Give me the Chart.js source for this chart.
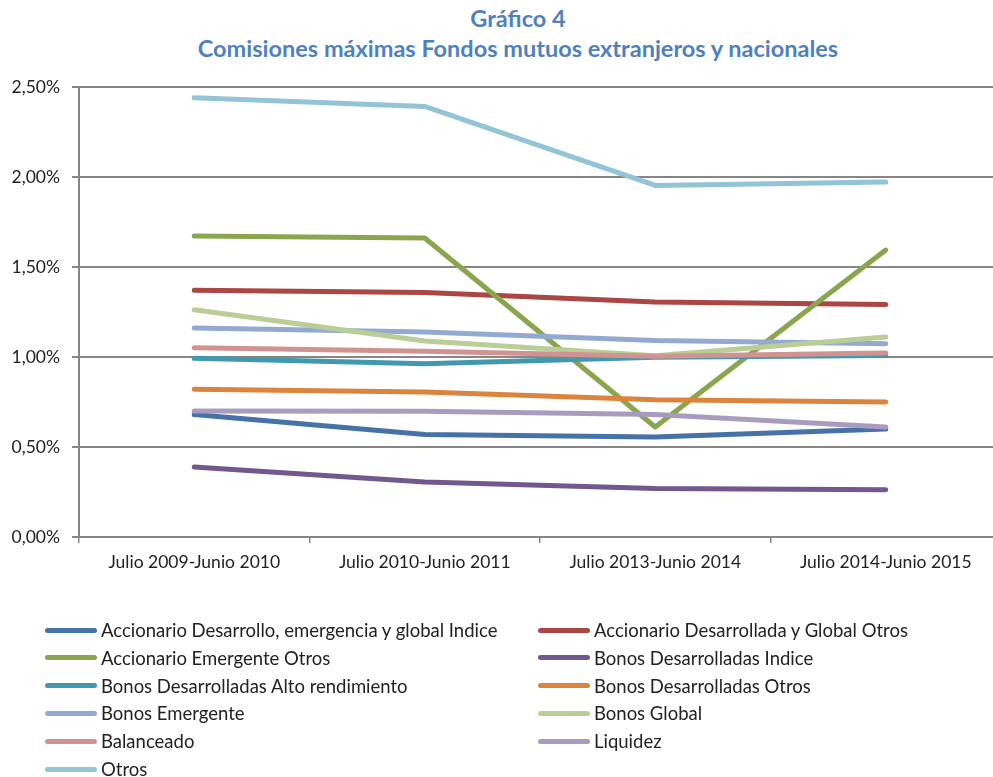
<!DOCTYPE html>
<html lang="es">
<head>
<meta charset="utf-8">
<title>Gráfico 4</title>
<script src="https://cdn.jsdelivr.net/npm/chart.js@4.4.1/dist/chart.umd.min.js"></script>
<style>
    html, body { margin: 0; padding: 0; background: #fff; overflow: hidden; }
    body { width: 993px; height: 777px; position: relative; font-family: Lato, "Open Sans", sans-serif; }
    #titulo { position: absolute; left: 0; top: 3px; width: 1036px; text-align: center; color: #4F81BD; font-weight: bold; font-size: 23.5px; line-height: 30px; }
    #wrap { position: absolute; left: 0; top: 0; width: 1010px; height: 600px; }
    #leyenda { position: absolute; left: 0; top: 0; width: 993px; height: 777px; pointer-events: none; }
    .item { position: absolute; height: 22px; display: flex; align-items: center; font-size: 18.5px; color: #222; white-space: nowrap; }
    .sw { width: 52px; height: 5px; border-radius: 3px; margin-right: 4px; }
</style>
</head>
<body>
<div id="titulo">Gráfico 4<br>Comisiones máximas Fondos mutuos extranjeros y nacionales</div>
<div id="wrap"><canvas id="comisionesGrafigi" width="1010" height="600"></canvas></div>
<div id="leyenda"></div>
<script>
// Periodos (eje X)
const periodos = ['Julio 2009-Junio 2010', 'Julio 2010-Junio 2011', 'Julio 2013-Junio 2014', 'Julio 2014-Junio 2015'];

// Comisiones máximas, en %
const accDesarrolloIndice = [0.68, 0.57, 0.556, 0.60];
const accDesarrolladaOtros = [1.371, 1.358, 1.306, 1.291];
const accEmergenteOtros = [1.672, 1.661, 0.611, 1.594];
const bonosDesIndice = [0.389, 0.306, 0.27, 0.263];
const bonosDesAltoRend = [0.993, 0.963, 0.998, 1.008];
const bonosDesOtros = [0.821, 0.806, 0.763, 0.75];
const bonosEmergente = [1.161, 1.139, 1.091, 1.074];
const bonosGlobal = [1.262, 1.089, 1.007, 1.111];
const balanceado = [1.052, 1.032, 1.004, 1.022];
const liquidez = [0.70, 0.699, 0.68, 0.611];
const otros = [2.44, 2.392, 1.953, 1.972];

const ejeYTicks = [0, 0.5, 1.0, 1.5, 2.0, 2.5];

const series = [
    { label: 'Accionario Desarrollo, emergencia y global Indice', data: accDesarrolloIndice, color: '#4572A7' },
    { label: 'Accionario Desarrollada y Global Otros', data: accDesarrolladaOtros, color: '#AA4643' },
    { label: 'Accionario Emergente Otros', data: accEmergenteOtros, color: '#89A54E' },
    { label: 'Bonos Desarrolladas Indice', data: bonosDesIndice, color: '#71588F' },
    { label: 'Bonos Desarrolladas Alto rendimiento', data: bonosDesAltoRend, color: '#4198AF' },
    { label: 'Bonos Desarrolladas Otros', data: bonosDesOtros, color: '#DB843D' },
    { label: 'Bonos Emergente', data: bonosEmergente, color: '#93A9CF' },
    { label: 'Bonos Global', data: bonosGlobal, color: '#B9CD96' },
    { label: 'Balanceado', data: balanceado, color: '#D19392' },
    { label: 'Liquidez', data: liquidez, color: '#A99BBD' },
    { label: 'Otros', data: otros, color: '#92C4D5' }
];

document.addEventListener('DOMContentLoaded', function () {
    const gris = '#868686';
    const ctx = document.getElementById('comisionesGrafigi').getContext('2d');

    new Chart(ctx, {
        type: 'line',
        data: {
            labels: periodos,
            datasets: series.map(function (s, i) {
                return {
                    label: s.label,
                    data: s.data,
                    borderColor: s.color,
                    backgroundColor: s.color,
                    borderWidth: 5,
                    borderCapStyle: 'round',
                    borderJoinStyle: 'round',
                    pointRadius: 0,
                    tension: 0,
                    order: 100 - i
                };
            })
        },
        options: {
            responsive: false,
            animation: false,
            layout: { padding: { top: 87, right: 9, bottom: 18, left: 0 } },
            plugins: {
                legend: { display: false },
                tooltip: { enabled: false }
            },
            scales: {
                x: {
                    offset: true,
                    grid: { offset: true, drawOnChartArea: false, drawTicks: true, tickLength: 6, color: gris, lineWidth: 1.5 },
                    border: { color: gris, width: 2 },
                    ticks: { color: '#222', font: { family: 'Lato', size: 17.5 }, padding: 9, maxRotation: 0 }
                },
                y: {
                    min: 0,
                    max: 2.5,
                    afterBuildTicks: function (axis) {
                        axis.ticks = ejeYTicks.map(function (v) { return { value: v }; });
                    },
                    afterFit: function (axis) { axis.width = 79; },
                    grid: { color: gris, lineWidth: 2, tickLength: 7 },
                    border: { color: gris, width: 2 },
                    ticks: {
                        color: '#222',
                        font: { family: 'Lato', size: 17.5 },
                        padding: 12,
                        callback: function (v) { return v.toFixed(2).replace('.', ',') + '%'; }
                    }
                }
            }
        }
    });

    // Leyenda en dos columnas
    const leyenda = document.getElementById('leyenda');
    series.forEach(function (s, i) {
        const fila = Math.floor(i / 2);
        const col = i % 2;
        const item = document.createElement('div');
        item.className = 'item';
        item.style.left = (col === 0 ? 45 : 538) + 'px';
        item.style.top = (619 + fila * 27.8) + 'px';
        const sw = document.createElement('span');
        sw.className = 'sw';
        sw.style.background = s.color;
        const txt = document.createElement('span');
        txt.textContent = s.label;
        item.appendChild(sw);
        item.appendChild(txt);
        leyenda.appendChild(item);
    });
});
</script>
</body>
</html>
